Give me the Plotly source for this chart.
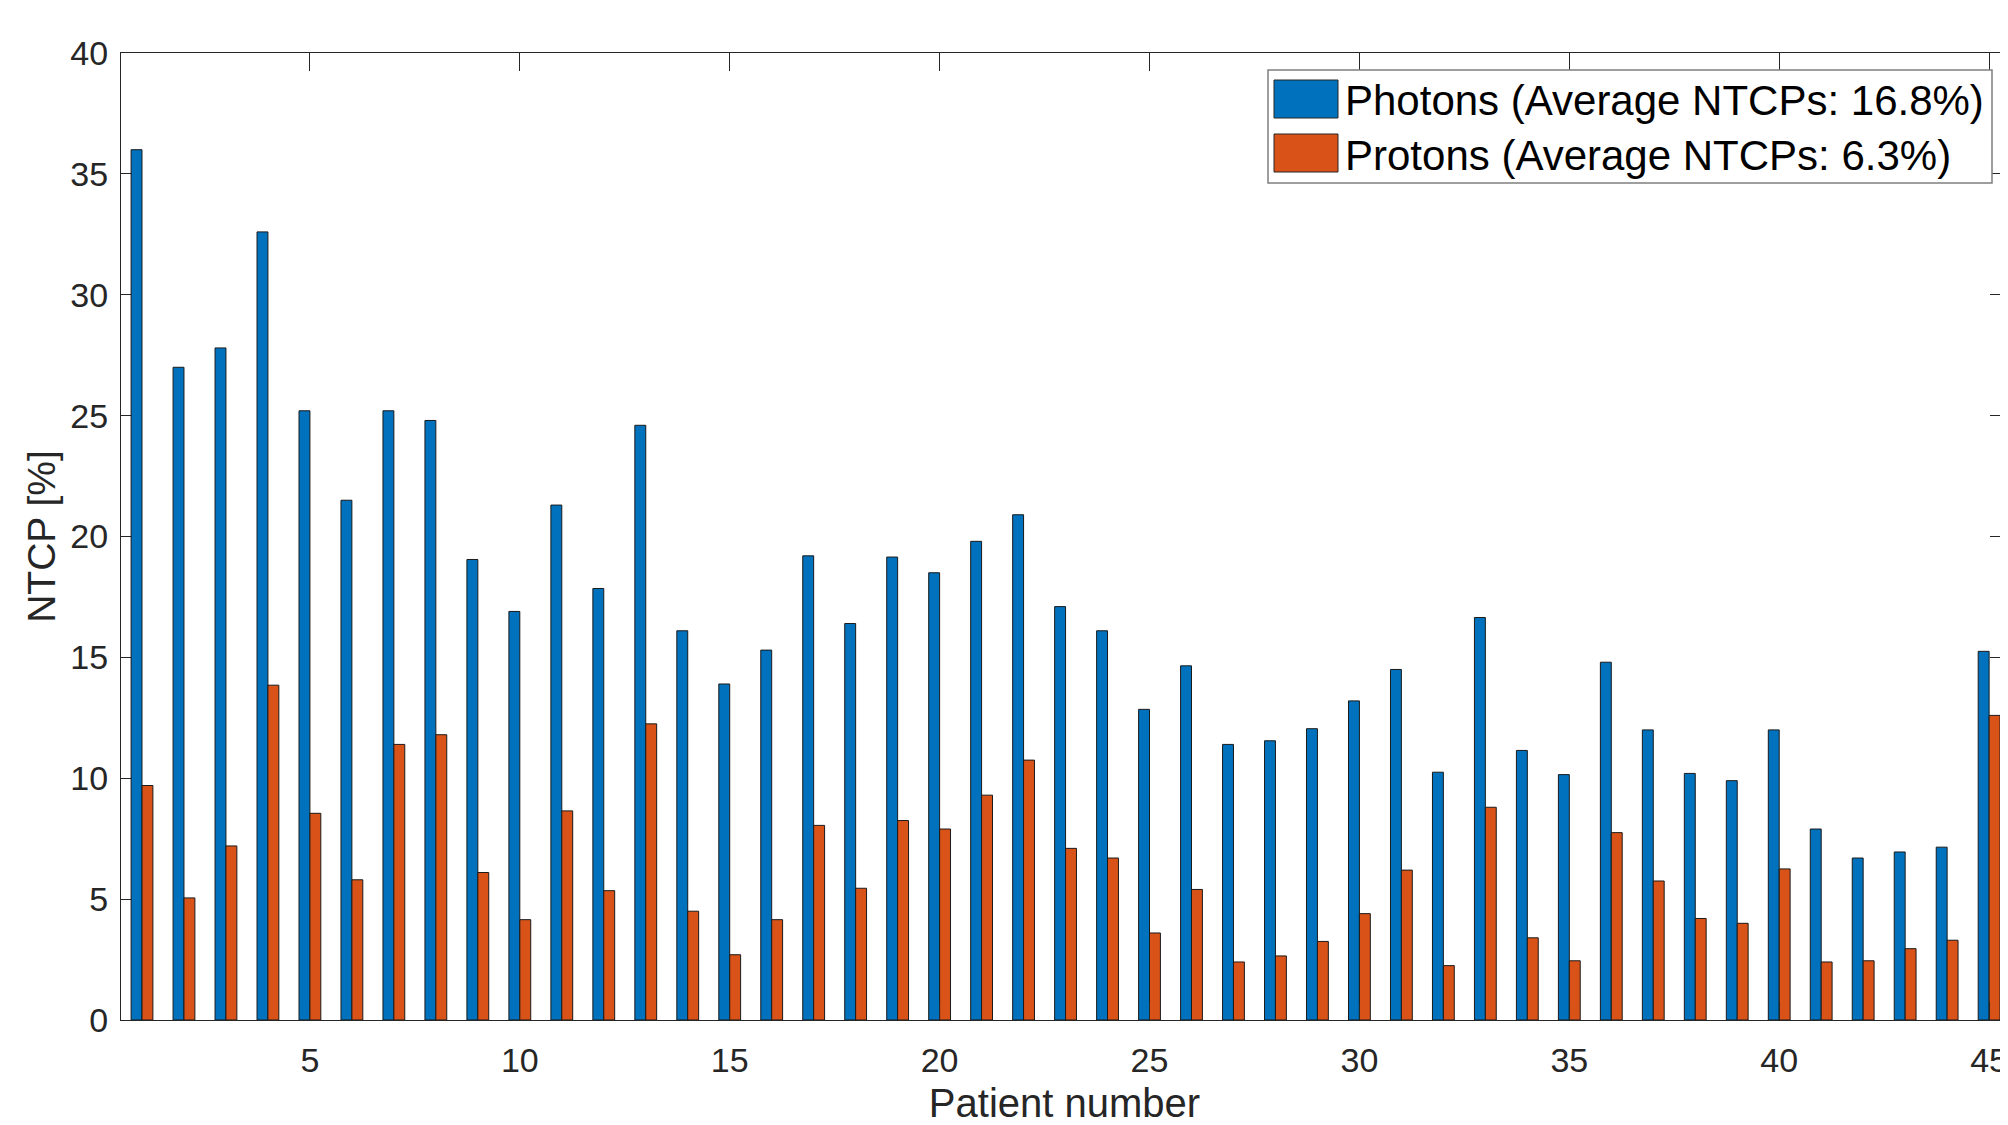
import plotly.graph_objects as go

patients = list(range(1, 46))

photons = [36.0, 27.0, 27.8, 32.6, 25.2, 21.5, 25.2, 24.8, 19.05, 16.9,
           21.3, 17.85, 24.6, 16.1, 13.9, 15.3, 19.2, 16.4, 19.15, 18.5,
           19.8, 20.9, 17.1, 16.1, 12.85, 14.65, 11.4, 11.55, 12.05, 13.2,
           14.5, 10.25, 16.65, 11.15, 10.15, 14.8, 12.0, 10.2, 9.9, 12.0,
           7.9, 6.7, 6.95, 7.15, 15.25]

protons = [9.7, 5.05, 7.2, 13.85, 8.55, 5.8, 11.4, 11.8, 6.1, 4.15,
           8.65, 5.35, 12.25, 4.5, 2.7, 4.15, 8.05, 5.45, 8.25, 7.9,
           9.3, 10.75, 7.1, 6.7, 3.6, 5.4, 2.4, 2.65, 3.25, 4.4,
           6.2, 2.25, 8.8, 3.4, 2.45, 7.75, 5.75, 4.2, 4.0, 6.25,
           2.4, 2.45, 2.95, 3.3, 12.6]

series_names = ["Photons (Average NTCPs: 16.8%)", "Protons (Average NTCPs: 6.3%)"]
series_colors = ["#0072BD", "#D95319"]

x_ticks = [5, 10, 15, 20, 25, 30, 35, 40, 45]
y_ticks = [0, 5, 10, 15, 20, 25, 30, 35, 40]

# page is 2008x1125; the html body adds an 8px margin at left/top
OFF = 8
W, H = 2008 - OFF, 1125 - OFF
ML, MR, MT, MB = 113, 0, 45, 105
PW = W - ML - MR
PH = H - MT - MB


def px(xpage):
    return (xpage - OFF - ML) / PW


def py(ypage):
    return (H - MB - (ypage - OFF)) / PH


FONT = "Liberation Sans, Arial, Helvetica, sans-serif"
AX = "#262626"

fig = go.Figure()
for name, vals, col in zip(series_names, [photons, protons], series_colors):
    fig.add_trace(go.Bar(
        x=patients, y=vals, name=name,
        marker=dict(color=col, line=dict(color="#1a1a1a", width=1)),
        showlegend=False,
    ))

fig.update_layout(
    width=W, height=H,
    margin=dict(l=ML, r=MR, t=MT, b=MB, autoexpand=False),
    paper_bgcolor="white", plot_bgcolor="white",
    barmode="group", bargap=0.48, bargroupgap=0.0,
    font=dict(family=FONT, size=34, color=AX),
    showlegend=False,
)

fig.update_xaxes(
    range=[0.5, 0.5 + PW / 41.98],
    tickmode="array", tickvals=x_ticks, ticktext=[str(v) for v in x_ticks],
    ticks="inside", ticklen=18, tickwidth=1, tickcolor=AX,
    showline=True, linecolor=AX, linewidth=1.3, mirror="ticks",
    showgrid=False, zeroline=False,
    tickfont=dict(size=34, color=AX, family=FONT),
    ticklabelstandoff=10, ticklabeloverflow="allow",
    title=dict(text="Patient number", font=dict(size=40, color=AX, family=FONT), standoff=13),
    automargin=False,
)
fig.update_yaxes(
    range=[0, 40],
    tickmode="array", tickvals=y_ticks, ticktext=[str(v) for v in y_ticks],
    ticks="inside", ticklen=18, tickwidth=1, tickcolor=AX,
    showline=True, linecolor=AX, linewidth=1.3, mirror="ticks",
    showgrid=False, zeroline=False,
    tickfont=dict(size=34, color=AX, family=FONT),
    ticklabelstandoff=5, ticklabeloverflow="allow",
    layer="below traces",
    title=dict(text="NTCP [%]", font=dict(size=39, color=AX, family=FONT), standoff=2),
    automargin=False,
)

# Legend box (drawn manually to match MATLAB-style large swatches)
shapes = [
    dict(type="rect", xref="paper", yref="paper",
         x0=px(1268), x1=px(1992), y0=py(183), y1=py(70),
         line=dict(color="#7f7f7f", width=1.5), fillcolor="white", layer="above"),
]
sw_rows = [(80, 118), (134, 172)]
annotations = []
for (y0, y1), name, col in zip(sw_rows, series_names, series_colors):
    shapes.append(dict(type="rect", xref="paper", yref="paper",
                       x0=px(1274), x1=px(1338), y0=py(y1), y1=py(y0),
                       line=dict(color="#262626", width=1), fillcolor=col, layer="above"))
    annotations.append(dict(xref="paper", yref="paper", x=px(1343), y=py((y0 + y1) / 2 + 2),
                            xanchor="left", yanchor="middle", showarrow=False,
                            text=name, font=dict(size=42, color="black", family=FONT)))

fig.update_layout(shapes=shapes, annotations=annotations)

fig.write_html("out.html")
